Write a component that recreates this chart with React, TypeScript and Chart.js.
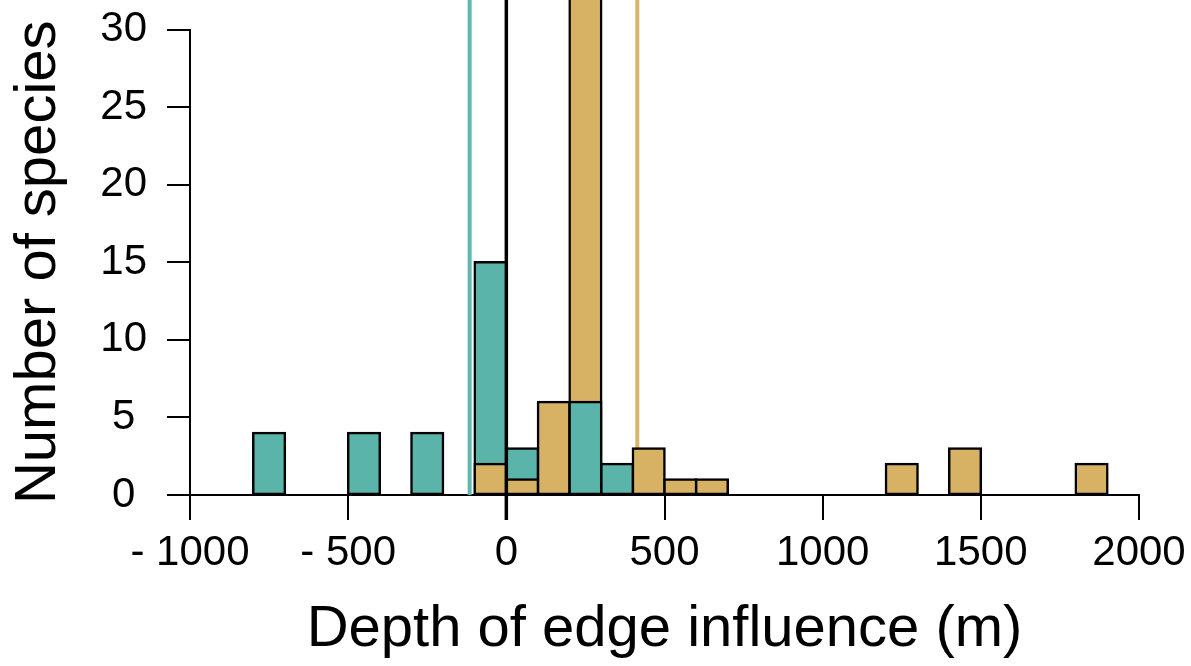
import React, { useEffect, useRef } from "react";
import { Chart, registerables } from "chart.js";

Chart.register(...registerables);

// Histogram bins (left edges, m) and bin width
const binStarts = [
  -1000, -900, -800, -700, -600, -500, -400, -300, -200, -100,
  0, 100, 200, 300, 400, 500, 600, 700, 800, 900,
  1000, 1100, 1200, 1300, 1400, 1500, 1600, 1700, 1800, 1900,
];
const binWidth = 100;

// Number of species per bin
const tealCounts = [
  0, 0, 4, 0, 0, 4, 0, 4, 0, 15,
  3, 0, 6, 2, 0, 0, 0, 0, 0, 0,
  0, 0, 0, 0, 0, 0, 0, 0, 0, 0,
];
const goldCounts = [
  0, 0, 0, 0, 0, 0, 0, 0, 0, 2,
  1, 6, 35, 0, 3, 1, 1, 0, 0, 0,
  0, 0, 2, 0, 3, 0, 0, 0, 2, 0,
];

// Mean depth lines (m) and the zero reference
const tealMean = [-116];
const goldMean = [414];
const zeroLine = [0];

// Axis ticks
const xTicks = [-1000, -500, 0, 500, 1000, 1500, 2000];
const yTicks = [0, 5, 10, 15, 20, 25, 30];

const TEAL = "#5bb4aa";
const GOLD = "#d8b264";
const TEAL_LINE = "#5fb8ae";
const GOLD_LINE = "#d9b569";
const FONT = "'Liberation Sans', Arial, Helvetica, sans-serif";

export default function App() {
  const ref = useRef<HTMLCanvasElement | null>(null);

  useEffect(() => {
    const canvas = ref.current;
    if (!canvas) return;

    const centers = binStarts.map((b) => b + binWidth / 2);
    const pick = (vals: number[], keep: (i: number) => boolean) =>
      centers.map((x, i) => ({ x, y: vals[i] > 0 && keep(i) ? vals[i] : null }));

    const barStyle = (color: string) => ({
      backgroundColor: color,
      borderColor: "#000000",
      borderWidth: 2.5,
      borderSkipped: false as const,
      inflateAmount: 1.25,
      barPercentage: 1,
      categoryPercentage: 1,
      grouped: false,
      clip: false as const,
    });

    const linesPlugin = {
      id: "refLines",
      beforeDatasetsDraw(chart: any) {
        const { ctx, chartArea, scales } = chart;
        const xs = scales.x;
        const draw = (vals: number[], color: string) => {
          vals.forEach((v) => {
            const px = xs.getPixelForValue(v);
            ctx.save();
            ctx.strokeStyle = color;
            ctx.lineWidth = 4;
            ctx.beginPath();
            ctx.moveTo(px, 0);
            ctx.lineTo(px, chartArea.bottom);
            ctx.stroke();
            ctx.restore();
          });
        };
        draw(tealMean, TEAL_LINE);
        draw(goldMean, GOLD_LINE);
      },
      afterDatasetsDraw(chart: any) {
        const { ctx, chartArea, scales } = chart;
        const xs = scales.x;
        zeroLine.forEach((v) => {
          const px = xs.getPixelForValue(v);
          ctx.save();
          ctx.strokeStyle = "#000000";
          ctx.lineWidth = 3.5;
          ctx.beginPath();
          ctx.moveTo(px, 0);
          ctx.lineTo(px, chartArea.bottom + 25);
          ctx.stroke();
          ctx.restore();
        });
      },
    };

    // Chart.js paints the first dataset on top, so the smaller bar of each bin goes first.
    const chart = new Chart(canvas, {
      type: "bar",
      data: {
        datasets: [
          { label: "Teal (front)", data: pick(tealCounts, (i) => tealCounts[i] < goldCounts[i]), ...barStyle(TEAL) },
          { label: "Gold (front)", data: pick(goldCounts, (i) => goldCounts[i] <= tealCounts[i]), ...barStyle(GOLD) },
          { label: "Teal (back)", data: pick(tealCounts, (i) => tealCounts[i] >= goldCounts[i]), ...barStyle(TEAL) },
          { label: "Gold (back)", data: pick(goldCounts, (i) => goldCounts[i] > tealCounts[i]), ...barStyle(GOLD) },
        ] as any,
      },
      options: {
        responsive: false,
        animation: false,
        devicePixelRatio: 1,
        layout: { padding: { top: 29.5, right: 52, left: 0, bottom: 0 } },
        plugins: {
          legend: { display: false },
          tooltip: { enabled: false },
        },
        scales: {
          x: {
            type: "linear",
            offset: false,
            min: -1000,
            max: 2000,
            afterFit: (s: any) => {
              s.height = 171;
              s.paddingLeft = 0;
              s.paddingRight = 0;
            },
            afterBuildTicks: (s: any) => {
              s.ticks = xTicks.map((v) => ({ value: v }));
            },
            ticks: {
              color: "#000",
              font: { family: FONT, size: 42 },
              padding: 8,
              maxRotation: 0,
              autoSkip: false,
              callback: (v: any) => (Number(v) < 0 ? "- " + Math.abs(Number(v)) : String(v)),
            },
            grid: {
              offset: false,
              drawOnChartArea: false,
              drawTicks: true,
              tickLength: 25,
              color: "#000",
              lineWidth: 2,
            },
            border: { display: true, color: "#000", width: 2 },
            title: {
              display: true,
              text: "Depth of edge influence (m)",
              color: "#000",
              font: { family: FONT, size: 58 },
              padding: { top: 0, bottom: 1 },
            },
          },
          y: {
            type: "linear",
            min: 0,
            max: 30,
            afterFit: (s: any) => {
              s.width = 190;
              s.paddingTop = 0;
              s.paddingBottom = 0;
            },
            afterBuildTicks: (s: any) => {
              s.ticks = yTicks.map((v) => ({ value: v }));
            },
            ticks: {
              color: "#000",
              font: { family: FONT, size: 42 },
              padding: 20,
              crossAlign: "center",
              autoSkip: false,
            },
            grid: {
              drawOnChartArea: false,
              drawTicks: true,
              tickLength: 23,
              color: "#000",
              lineWidth: 2,
            },
            border: { display: true, color: "#000", width: 2 },
            title: {
              display: true,
              text: "Number of species",
              color: "#000",
              font: { family: FONT, size: 58 },
              padding: { top: 4, bottom: 0 },
            },
          },
        },
      },
      plugins: [linesPlugin],
    });

    return () => chart.destroy();
  }, []);

  return (
    <div style={{ position: "absolute", left: 0, top: 0, width: 1191, height: 666, background: "#fff" }}>
      <canvas ref={ref} width={1191} height={666} style={{ display: "block", width: 1191, height: 666 }} />
    </div>
  );
}
